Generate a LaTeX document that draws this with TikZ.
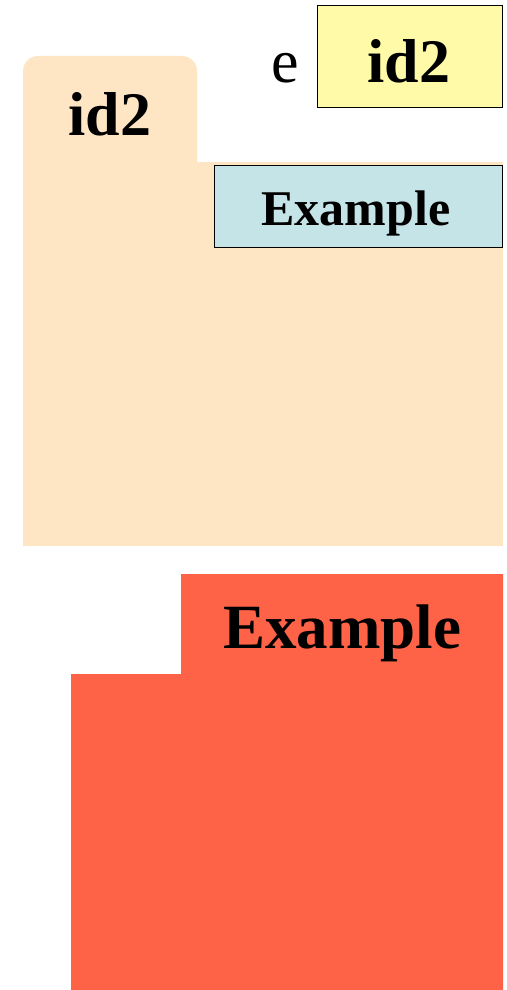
\documentclass[tikz,border=0pt]{standalone}
\usepackage{fontspec}
\setmainfont{Liberation Serif}
\definecolor{folderbg}{RGB}{254,230,196}
\definecolor{idyellow}{RGB}{255,250,168}
\definecolor{exblue}{RGB}{196,228,232}
\definecolor{exred}{RGB}{255,99,71}
\usetikzlibrary{positioning}

\begin{document}
\begin{tikzpicture}[x=1pt, y=-1pt,
    idfont/.style={font=\bfseries\fontsize{62}{70}\selectfont},
    exfont/.style={font=\bfseries\fontsize{50}{58}\selectfont},
    bigexfont/.style={font=\bfseries\fontsize{63}{70}\selectfont},
    valbox/.style={draw=black, line width=1pt, inner sep=0pt}]
     \useasboundingbox (0,0) rectangle (506,990);
     %folder
     \fill[folderbg, rounded corners=15pt] (23,56) rectangle (197,190);
     \fill[folderbg] (23,162) rectangle (503,546);
     \node[idfont, anchor=base] (tabid) at (110,135) {id2};
     %variable e
     \node[valbox, fill=idyellow, anchor=north west, minimum width=185, minimum height=102] (ebox) at (317,5) {};
     \node[idfont, anchor=base] (eval) at (409,82) {id2};
     \node[font=\fontsize{62}{70}\selectfont, anchor=base] (ename) at (285,82) {e};
     %class box
     \node[valbox, fill=exblue, anchor=north west, minimum width=288, minimum height=82] (clsbox) at (214,165) {};
     \node[exfont, anchor=base] (clsname) at (356,225) {Example};
     %class object
     \fill[exred] (181,574) -- (503,574) -- (503,990) -- (71,990) -- (71,674) -- (181,674) -- cycle;
     \node[bigexfont, anchor=base] (objname) at (342,648) {Example};
\end{tikzpicture}
\end{document}
